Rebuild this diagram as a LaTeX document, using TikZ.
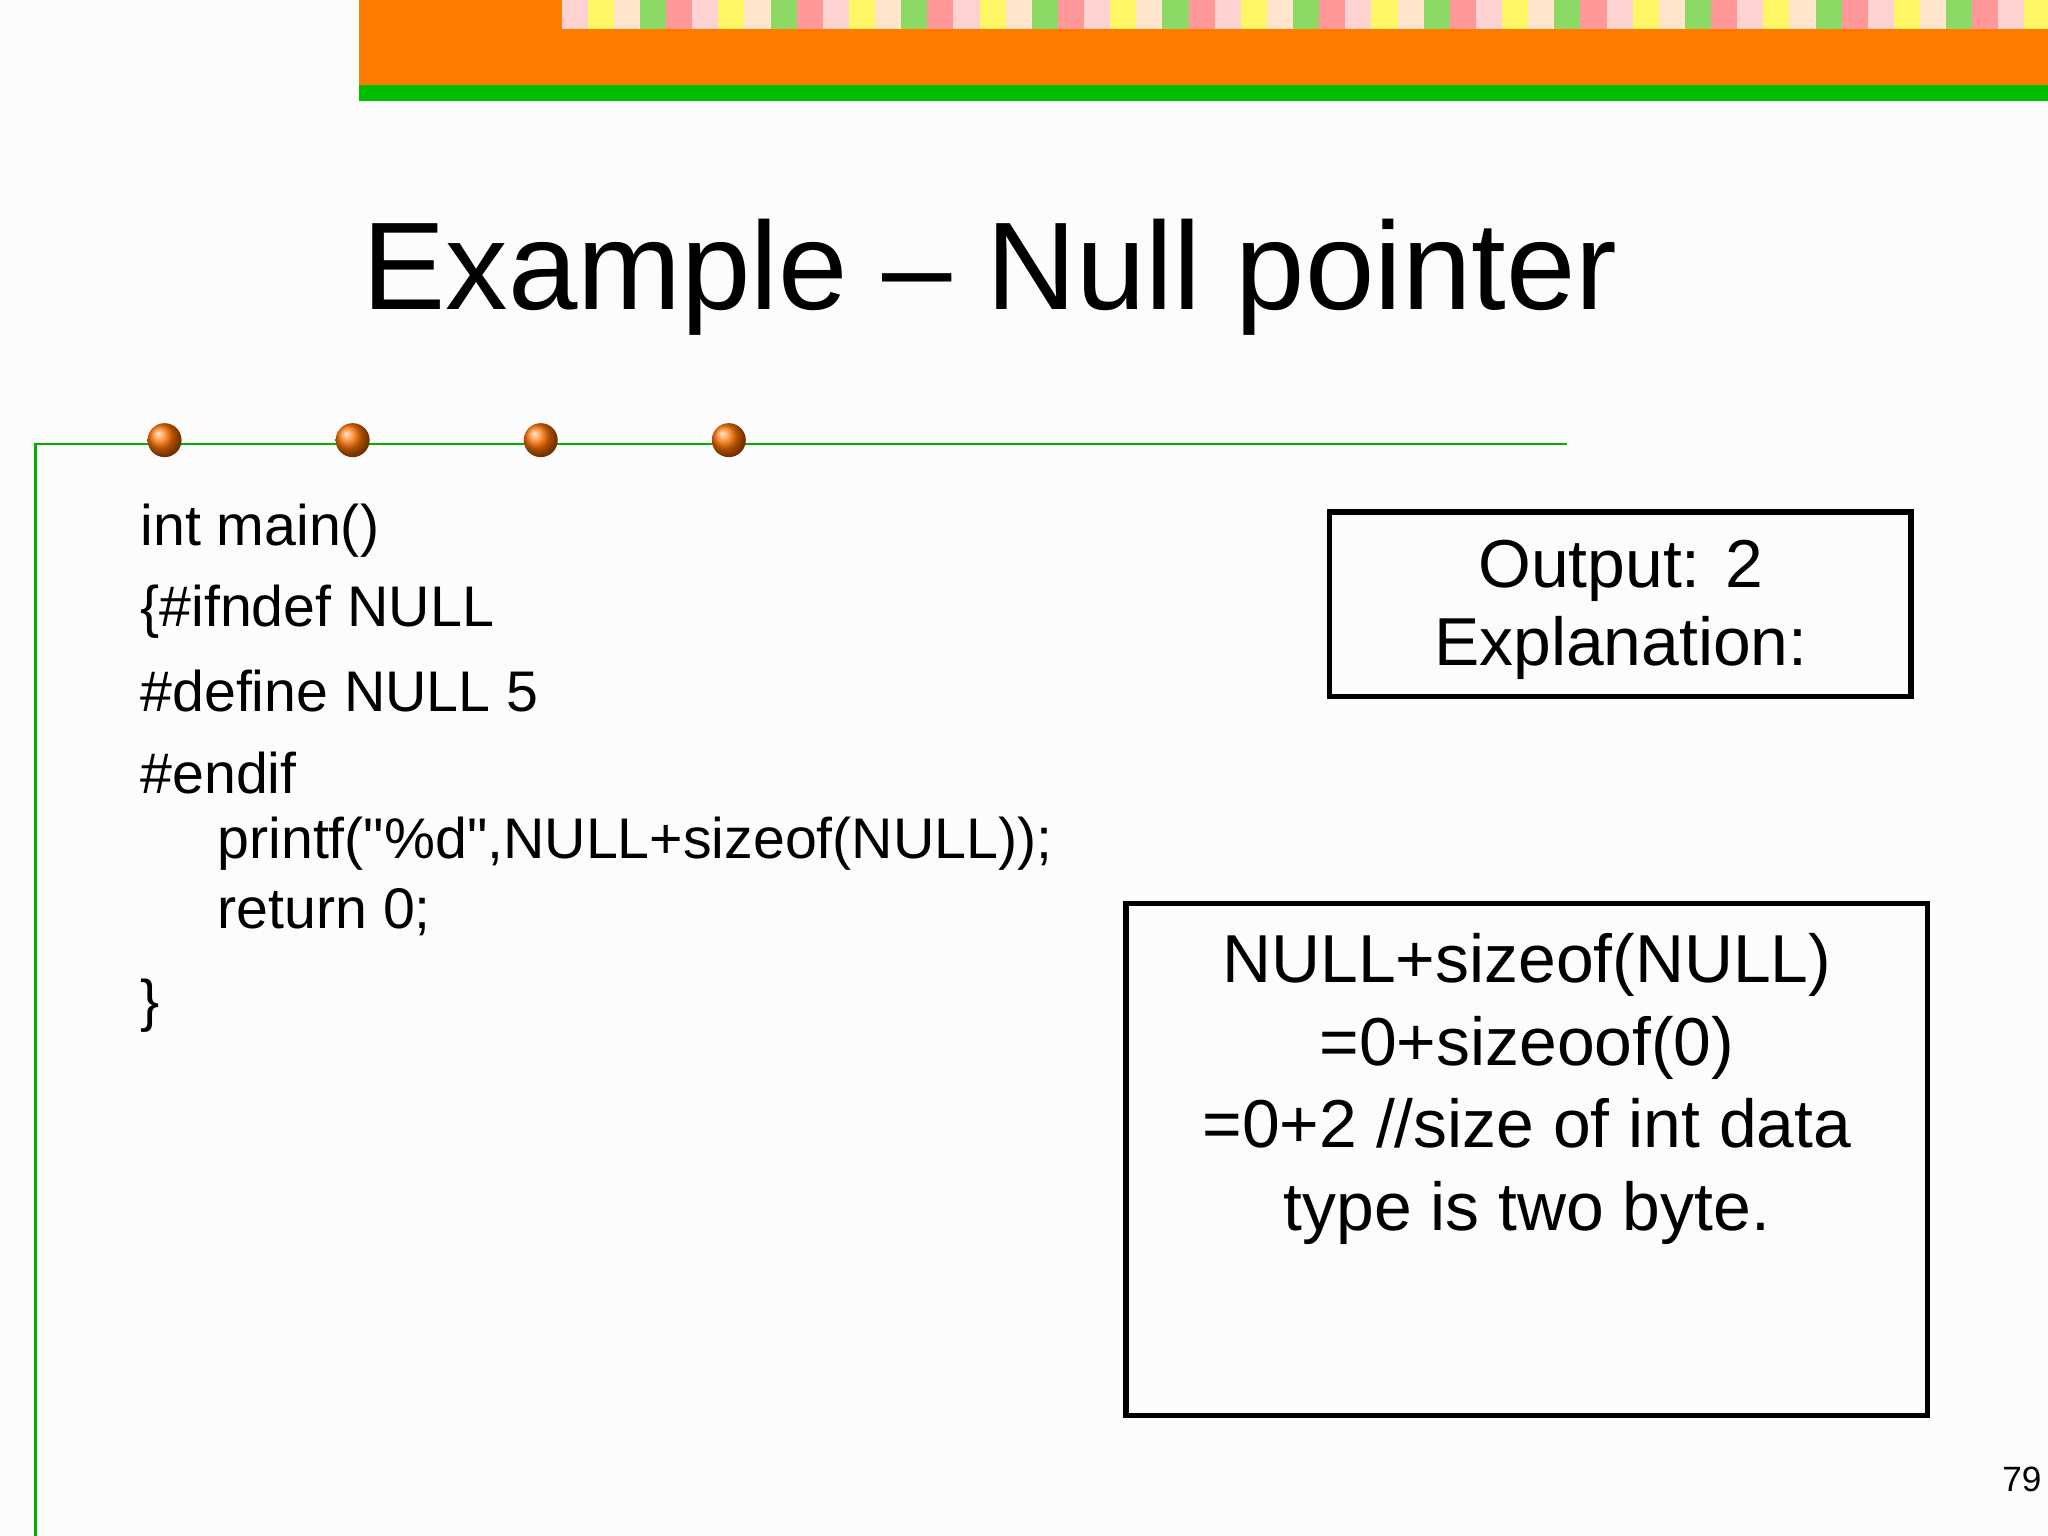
\documentclass[tikz,border=0pt]{standalone}
\usepackage{fontspec}
\setmainfont{Liberation Sans}
\newfontfamily\plain{Liberation Sans}
\begin{document}
\begin{tikzpicture}[x=0.01306cm,y=-0.01306cm,
  code/.style={anchor=west,inner sep=0,font=\plain\fontsize{16.3}{20}\selectfont},
  boxtxt/.style={align=center,inner sep=0,font=\fontsize{19.3}{23.2}\selectfont},
  dot/.style={circle,inner sep=0,minimum size=0.34cm,ball color=orange!90!red,draw=none}]
\useasboundingbox (0,0) rectangle (1568,1176);
\fill[white!98!gray] (0,0) rectangle (1568,1176);
\fill[orange!85!red!90!yellow] (275,0) rectangle (1568,65);
\fill[green!75!black] (275,65) rectangle (1568,77);
\foreach \i in {0,...,56}{
  \pgfmathsetmacro{\xx}{430+\i*20}
  \pgfmathtruncatemacro{\c}{mod(\i*7,5)}
  \ifcase\c \def\cc{pink!70}\or\def\cc{green!50!olive!60}\or\def\cc{yellow!60}\or\def\cc{red!40}\else\def\cc{white!80!orange}\fi
  \fill[\cc] (\xx,0) rectangle ++(20,22);
}
\node[inner sep=0,font=\fontsize{35.5}{40}\selectfont] (title) at (758,212) {Example – Null pointer};
\draw[green!70!black,line width=0.8pt] (27,1176) -- (27,340) -- (1200,340);
\foreach \x/\n in {126/a,270/b,414/c,558/d} \node[dot] (d\n) at (\x,337) {};
\node[code] (l1) at (107,406) {int main()};
\node[code] (l2) at (107,468) {\{\#ifndef NULL};
\node[code] (l3) at (107,529) {\#define NULL 5};
\node[code] (l4) at (107,592) {\#endif};
\node[code] (l5) at (166,646) {printf("\%d",NULL+sizeof(NULL));};
\node[code] (l6) at (166,698) {return 0;};
\node[code] (l7) at (107,770) {\}};
\draw[line width=1.5pt] (1018,392) rectangle (1463,533);
\node[boxtxt] (out) at (1241,467) {Output: 2\\[-1pt]Explanation:};
\draw[line width=1.5pt] (862,692) rectangle (1476,1084);
\node[boxtxt,anchor=north] (expl) at (1169,714) {NULL+sizeof(NULL)\\[0.3pt]=0+sizeoof(0)\\[0.3pt]=0+2 //size of int data\\[0.3pt]type is two byte.};
\node[inner sep=0,font=\fontsize{10}{12}\selectfont] (pg) at (1548,1133) {79};
\end{tikzpicture}
\end{document}
